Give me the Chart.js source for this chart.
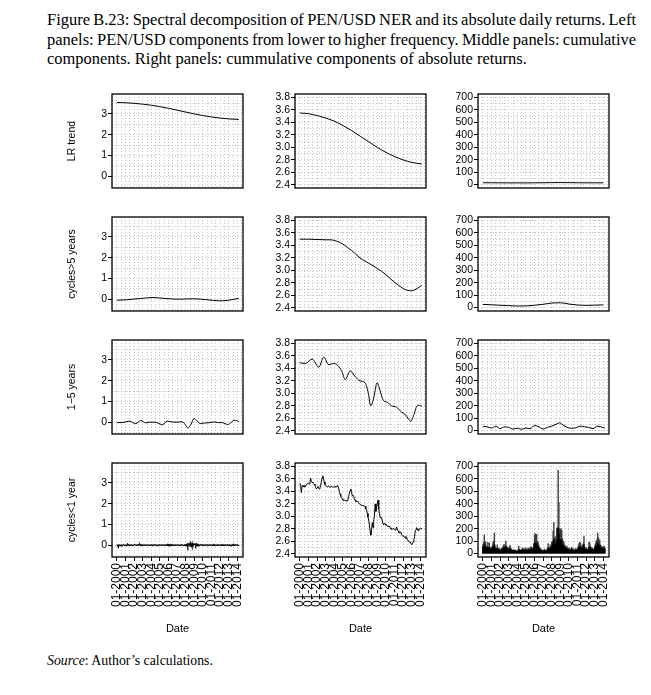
<!DOCTYPE html>
<html>
<head>
<meta charset="utf-8">
<script src="https://cdn.jsdelivr.net/npm/chart.js@4.4.1/dist/chart.umd.min.js"></script>
<style>
html,body{margin:0;padding:0;background:#fff;}
body{width:651px;height:695px;position:relative;overflow:hidden;}
.t{position:absolute;left:47px;font-family:"Liberation Serif","Times New Roman",serif;color:#000;white-space:nowrap;line-height:19.5px;font-size:15px;}
canvas{position:absolute;}
</style>
</head>
<body>
<div id="l1" class="t" style="top:10px">Figure B.23: Spectral decomposition of PEN/USD NER and its absolute daily returns. Left</div>
<div id="l2" class="t" style="top:29.5px">panels: PEN/USD components from lower to higher frequency. Middle panels: cumulative</div>
<div id="l3" class="t" style="top:49px">components. Right panels: cummulative components of absolute returns.</div>
<div id="src" class="t" style="top:652px;line-height:18px;font-size:12.5px"><i>Source</i>: Author’s calculations.</div>
<script>
// ---------------- data ----------------
const xTickYears = [2000,2001,2002,2003,2004,2005,2006,2007,2008,2009,2010,2011,2012,2013,2014];
const xGrid = [1999.5,2000,2000.5,2001,2001.5,2002,2002.5,2003,2003.5,2004,2004.5,2005,2005.5,2006,2006.5,2007,2007.5,2008,2008.5,2009,2009.5,2010,2010.5,2011,2011.5,2012,2012.5,2013,2013.5,2014,2014.5];

const leftTicks = [0,1,2,3];
const leftGrid = [-0.5,0,0.5,1,1.5,2,2.5,3,3.5];
const midTicks = [2.4,2.6,2.8,3.0,3.2,3.4,3.6,3.8];
const midGrid = [2.4,2.5,2.6,2.7,2.8,2.9,3.0,3.1,3.2,3.3,3.4,3.5,3.6,3.7,3.8];
const rightTicks = [0,100,200,300,400,500,600,700];
const rightGrid = [0,50,100,150,200,250,300,350,400,450,500,550,600,650,700];

const rowTitles = ['LR trend','cycles>5 years','1\u22125 years','cycles<1 year'];

// long-run trend (annual)
const trendX = [2000,2001,2002,2003,2004,2005,2006,2007,2008,2009,2010,2011,2012,2013,2014.17];
const trendY = [3.55,3.54,3.51,3.47,3.42,3.35,3.27,3.18,3.09,3.00,2.92,2.855,2.80,2.76,2.735];

// cycles > 5 years (component)
const cyc5X = [2000,2001.1,2002.65,2004.2,2005.7,2007.3,2008.8,2010.35,2011.9,2012.85,2014.17];
const cyc5Y = [-0.05,-0.03,0.03,0.08,0.03,0.0,0.02,-0.02,-0.08,-0.06,0.04];

// cumulative: trend + cycles > 5 years
const cum2X = [2000,2001,2002,2003,2003.5,2004,2004.5,2005,2005.5,2006,2006.5,2007,2007.5,2008,2008.5,2009,2009.5,2010,2010.5,2011,2011.5,2012,2012.5,2013,2013.5,2014.17];
const cum2Y = [3.50,3.50,3.495,3.49,3.49,3.48,3.455,3.42,3.37,3.32,3.26,3.20,3.155,3.115,3.075,3.03,2.985,2.93,2.87,2.81,2.76,2.71,2.68,2.675,2.70,2.76];

// 1-5 years component and cumulative up to 1-5 years
const cum3X = [2000.0,2000.65,2001.42,2002.19,2002.77,2003.35,2003.92,2004.38,2004.88,2005.27,2005.85,2006.42,2007.0,2007.58,2007.96,2008.23,2008.62,2008.96,2009.31,2009.69,2010.15,2010.65,2011.23,2011.81,2012.19,2012.58,2012.88,2013.23,2013.62,2013.92,2014.17];
const cum3Y = [3.49,3.48,3.55,3.42,3.58,3.46,3.48,3.45,3.35,3.22,3.36,3.27,3.20,3.17,3.00,2.80,2.95,3.17,3.05,2.89,2.86,2.80,2.78,2.70,2.67,2.60,2.55,2.65,2.80,2.81,2.79];
const cyc15Y = [-0.02,-0.02,0.05,-0.07,0.08,-0.03,0.0,0.0,-0.06,-0.13,0.05,0.01,0.0,0.02,-0.12,-0.28,-0.10,0.18,0.06,-0.07,-0.04,-0.03,0.01,-0.02,-0.02,-0.07,-0.12,-0.03,0.09,0.08,0.03];

// monthly: cycles < 1 year, PEN/USD level, absolute returns (Jan 2000 - Mar 2014)
const cyc1Y = [
 0.03,-0.02,-0.10,0.02,0.01,-0.02,0.01,-0.02,0.00,0.02,0.01,0.00,
 -0.01,-0.02,0.01,0.06,0.01,-0.01,0.01,-0.01,0.00,0.01,-0.02,-0.01,
 0.02,0.03,0.01,-0.01,0.00,0.02,0.00,0.03,0.05,-0.02,0.01,0.00,
 0.01,-0.01,0.00,0.01,0.00,-0.01,0.00,0.01,0.00,-0.01,0.00,0.01,
 0.00,0.01,-0.01,0.00,0.02,0.01,0.00,-0.02,0.01,-0.01,0.00,0.01,
 0.01,0.00,-0.01,0.02,0.01,0.00,-0.01,0.01,0.00,0.02,-0.01,0.04,
 0.03,-0.03,0.02,0.04,-0.01,0.02,0.00,0.01,-0.01,0.00,0.01,0.00,
 0.00,0.01,0.00,-0.01,0.00,0.01,0.00,0.02,0.00,-0.02,0.01,0.00,
 0.02,-0.03,0.05,-0.08,0.06,0.08,-0.05,0.07,-0.04,0.10,-0.08,0.05,
 0.03,0.07,-0.04,0.05,-0.03,0.04,0.02,-0.02,0.01,0.02,0.00,0.01,
 0.00,0.01,-0.01,0.00,0.01,0.00,0.01,-0.01,0.00,0.01,0.00,0.01,
 0.00,-0.01,0.01,0.04,-0.02,0.01,0.00,-0.01,0.01,0.02,-0.01,0.00,
 0.01,0.00,0.01,-0.01,0.02,0.00,-0.01,0.01,0.00,0.01,0.02,-0.01,
 0.00,0.01,0.00,-0.02,0.01,0.02,-0.01,0.03,-0.01,0.00,0.02,0.01,
 0.01,-0.01,0.01];
const penUsd = [
 3.53,3.50,3.38,3.48,3.50,3.47,3.49,3.47,3.49,3.51,3.52,3.53,
 3.53,3.52,3.55,3.61,3.56,3.54,3.55,3.53,3.52,3.50,3.46,3.44,
 3.46,3.48,3.45,3.44,3.46,3.50,3.56,3.62,3.65,3.60,3.55,3.51,
 3.50,3.48,3.47,3.47,3.48,3.47,3.47,3.48,3.48,3.47,3.47,3.47,
 3.47,3.48,3.47,3.47,3.49,3.48,3.46,3.40,3.36,3.32,3.30,3.28,
 3.26,3.25,3.26,3.26,3.25,3.25,3.25,3.27,3.32,3.37,3.41,3.44,
 3.40,3.33,3.34,3.32,3.28,3.26,3.24,3.24,3.24,3.23,3.22,3.20,
 3.19,3.19,3.18,3.18,3.17,3.17,3.16,3.16,3.12,3.10,3.05,2.99,
 2.94,2.86,2.76,2.70,2.80,2.90,2.82,2.95,3.00,3.20,3.08,3.15,
 3.20,3.26,3.12,3.05,2.98,2.99,2.98,2.93,2.88,2.87,2.89,2.88,
 2.86,2.86,2.84,2.84,2.85,2.83,2.82,2.80,2.79,2.79,2.81,2.81,
 2.79,2.78,2.80,2.83,2.78,2.77,2.74,2.74,2.75,2.74,2.70,2.69,
 2.69,2.68,2.67,2.65,2.68,2.66,2.62,2.61,2.60,2.59,2.59,2.56,
 2.55,2.57,2.59,2.62,2.68,2.78,2.79,2.82,2.78,2.77,2.80,2.80,
 2.81,2.80,2.81];
// monthly peak of absolute daily returns
const absPeak = [
 70,90,150,80,95,60,55,90,50,85,45,40,
 50,60,90,100,165,60,45,40,70,40,45,35,
 30,35,40,45,55,70,60,75,100,60,50,40,
 45,55,65,40,35,30,25,30,25,30,25,20,
 20,30,60,35,30,25,30,45,40,35,30,45,
 40,35,30,45,40,35,45,55,50,40,45,80,
 150,160,120,155,100,90,70,50,40,35,30,25,
 20,30,35,20,25,30,40,80,45,50,70,60,
 90,100,180,250,130,120,140,200,210,670,410,200,
 190,200,185,120,100,90,70,60,50,60,45,40,
 40,45,35,30,50,40,35,30,25,40,30,35,
 45,60,80,90,85,60,60,70,80,140,50,40,
 50,40,35,30,90,85,60,50,40,45,35,30,
 60,80,100,110,165,130,100,110,70,60,55,50,
 55,60,50];
// monthly typical level of absolute daily returns
const absBase = [
 45,55,70,50,55,40,40,50,35,50,35,30,
 35,40,55,60,70,40,30,30,40,30,30,25,
 25,25,30,30,35,45,40,45,55,40,35,30,
 30,35,40,30,25,22,20,22,20,22,20,15,
 15,20,30,25,22,20,22,30,28,25,22,30,
 28,25,22,30,28,25,30,35,32,28,30,45,
 80,85,70,80,60,55,45,35,28,25,22,20,
 15,20,25,15,18,22,28,45,30,35,40,38,
 55,60,90,110,75,70,80,100,110,200,150,110,
 100,110,100,70,60,55,45,40,35,40,30,28,
 28,30,25,22,35,28,25,22,20,28,22,25,
 30,40,50,55,50,40,40,45,50,70,35,28,
 35,28,25,22,50,50,40,35,28,30,25,22,
 40,50,60,65,85,75,60,65,45,40,38,35,
 38,40,35];

// absolute returns: cumulative components
const absTrendY = [14,14,13.5,13,13,13,13.5,14,15,15.5,15,14,13.5,13.5,13.5];
const abs2Y = [25,22,18,15,12,13,18,26,36,38,28,20,17,19,21];
const abs3X = [2000,2000.5,2001,2001.5,2002,2002.5,2003,2003.5,2004,2004.5,2005,2005.5,2006,2006.5,2007,2007.5,2008,2008.5,2008.9,2009.3,2009.8,2010.3,2010.8,2011.3,2011.8,2012.3,2012.8,2013.3,2013.7,2014.17];
const abs3Y = [35,30,20,35,15,30,25,12,18,10,20,15,40,30,12,25,35,50,62,45,25,18,22,35,30,25,15,35,30,20];

const months = [];
for (let i = 0; i < penUsd.length; i++) months.push(2000 + i / 12);

// ---------------- text layout ----------------
(function fitText(){
  const l1 = document.getElementById('l1'), l2 = document.getElementById('l2'), l3 = document.getElementById('l3');
  const w3 = l3.getBoundingClientRect().width;
  const fs = 15 * 480 / w3;
  [l1,l2,l3].forEach(e => e.style.fontSize = fs + 'px');
  [l1,l2].forEach(e => {
    const w = e.getBoundingClientRect().width;
    const n = e.textContent.split(' ').length - 1;
    e.style.wordSpacing = ((589 - w) / n) + 'px';
  });
  const s = document.getElementById('src');
  const ws = s.getBoundingClientRect().width;
  s.style.fontSize = (12.5 * 166 / ws) + 'px';
})();

// ---------------- charts ----------------
Chart.defaults.font.family = '"Liberation Sans", Arial, sans-serif';
const X_MIN = 1999.43, X_MAX = 2014.66;
const COL_LEFT = [112, 295, 478], COL_YW = [46, 35, 38];
const ROW_TOP = [94, 217, 340, 463];
const BOX_W = 131, BOX_H = 94, PAD_T = 8, PAD_R = 8;
const X_H_TOP = 4, X_H_BOTTOM = 79;
const GRID_COLOR = '#c4c4c4';

const yAxes = [
  {min:-0.57, max:3.96, grid:leftGrid, labels:leftTicks, fmt:v => String(v)},
  {min:2.35, max:3.855, grid:midGrid, labels:midTicks, fmt:v => v.toFixed(1)},
  {min:-28, max:728, grid:rightGrid, labels:rightTicks, fmt:v => String(v)}
];
const near = (arr, v) => arr.some(t => Math.abs(t - v) < 1e-6);

const framePlugin = {
  id:'frame',
  afterDraw(chart){
    const {ctx, chartArea:a} = chart;
    ctx.save();
    ctx.strokeStyle = '#000';
    ctx.lineWidth = 1.3;
    ctx.strokeRect(a.left, a.top, a.right - a.left, a.bottom - a.top);
    ctx.restore();
  }
};

function pts(xs, ys){ return xs.map((x, i) => ({x:x, y:ys[i]})); }

function lineSet(xs, ys, smooth, w){
  return {type:'line', data:pts(xs, ys), borderColor:'#000', borderWidth:w || 1, pointRadius:0,
          fill:false, cubicInterpolationMode: smooth ? 'monotone' : 'default', tension:0};
}
function barSet(xs, ys, color, thick){
  return {type:'bar', data:pts(xs, ys), backgroundColor:color, borderWidth:0, barThickness:thick, grouped:false};
}

function panel(row, col, datasets){
  const bottom = row === 3;
  const yw = COL_YW[col];
  const xh = bottom ? X_H_BOTTOM : X_H_TOP;
  const cv = document.createElement('canvas');
  const W = yw + BOX_W + PAD_R, H = PAD_T + BOX_H + xh;
  cv.width = W; cv.height = H;
  cv.style.width = W + 'px'; cv.style.height = H + 'px';
  cv.style.left = (COL_LEFT[col] - yw) + 'px';
  cv.style.top = (ROW_TOP[row] - PAD_T) + 'px';
  document.body.appendChild(cv);
  const ya = yAxes[col];
  new Chart(cv, {
    type: datasets[0].type,
    data: {datasets:datasets},
    options: {
      responsive:false, animation:false,
      layout:{padding:{top:PAD_T, right:PAD_R, left:0, bottom:0}},
      plugins:{legend:{display:false}, tooltip:{enabled:false}},
      scales:{
        x:{
          type:'linear', min:X_MIN, max:X_MAX, offset:false,
          afterBuildTicks: s => { s.ticks = xGrid.map(v => ({value:v})); },
          afterFit: s => { s.height = xh; s.paddingLeft = 0; s.paddingRight = 0; },
          ticks:{display:bottom, autoSkip:false, maxRotation:90, minRotation:90, padding:2,
                 color:'#000', font:{size:12},
                 callback: v => near(xTickYears, v) ? '01-' + Math.round(v) : ''},
          grid:{offset:false, color:GRID_COLOR, lineWidth:1, drawTicks:bottom, tickLength:4, tickWidth:1,
                tickColor: c => (c.tick && near(xTickYears, c.tick.value)) ? '#000' : 'rgba(0,0,0,0)'},
          border:{display:false, dash:[1,2]},
          title:{display:bottom, text:'Date', color:'#000', font:{size:11}, padding:0}
        },
        y:{
          type:'linear', min:ya.min, max:ya.max,
          afterBuildTicks: s => { s.ticks = ya.grid.map(v => ({value:v})); },
          afterFit: s => { s.width = yw; s.paddingTop = 0; s.paddingBottom = 0; },
          ticks:{autoSkip:false, padding:1, color:'#000', font:{size:10.5},
                 callback: v => near(ya.labels, v) ? ya.fmt(v) : ''},
          grid:{color:GRID_COLOR, lineWidth:1, drawTicks:true, tickLength:4, tickWidth:1,
                tickColor: c => (c.tick && near(ya.labels, c.tick.value)) ? '#000' : 'rgba(0,0,0,0)'},
          border:{display:false, dash:[1,2]},
          title:{display:col === 0, text:rowTitles[row], color:'#000', font:{size:10.5}, padding:0}
        }
      }
    },
    plugins:[framePlugin]
  });
}

// row 1
panel(0, 0, [lineSet(trendX, trendY, true)]);
panel(0, 1, [lineSet(trendX, trendY, true)]);
panel(0, 2, [lineSet(xTickYears, absTrendY, true)]);
// row 2
panel(1, 0, [lineSet(cyc5X, cyc5Y, true)]);
panel(1, 1, [lineSet(cum2X, cum2Y, true)]);
panel(1, 2, [lineSet(xTickYears, abs2Y, true)]);
// row 3
panel(2, 0, [lineSet(cum3X, cyc15Y, true)]);
panel(2, 1, [lineSet(cum3X, cum3Y, true)]);
panel(2, 2, [lineSet(abs3X, abs3Y, true)]);
// row 4
panel(3, 0, [lineSet(months, cyc1Y, false, 1.2)]);
panel(3, 1, [lineSet(months, penUsd, false)]);
panel(3, 2, [barSet(months, absBase, '#000', 1), barSet(months, absPeak, '#3a3a3a', 0.7)]);
</script>
</body>
</html>
